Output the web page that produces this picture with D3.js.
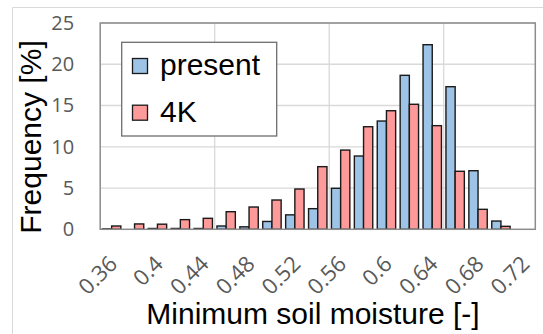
<!doctype html>
<html>
<head>
  <script src="https://cdnjs.cloudflare.com/ajax/libs/d3/7.8.5/d3.min.js"></script>
  <style>
    body { margin: 0; background: #fff; }
    .tick text { font-family: "Open Sans", sans-serif; fill: #595959; }
    .title { font-family: "Liberation Sans", Arial, sans-serif; fill: #000; }
  </style>
</head>
<body>
  <svg width="543" height="334"></svg>
  <script>
    var bins = ["0.36","0.38","0.4","0.42","0.44","0.46","0.48","0.5","0.52","0.54",
      "0.56","0.58","0.6","0.62","0.64","0.66","0.68","0.7","0.72"];
    var present = [0.05, 0, 0.1, 0.1, 0.1, 0.4, 0.3, 0.95, 1.75, 2.5, 4.97, 8.88,
      13.12, 18.66, 22.37, 17.28, 7.1, 1.0, 0];
    var warm4K = [0.4, 0.65, 0.62, 1.17, 1.33, 2.13, 2.7, 3.55, 4.88, 7.59, 9.6,
      12.43, 14.37, 15.15, 12.56, 7.03, 2.42, 0.36, 0];
    var seriesNames = ["present", "4K"];
    var xTickLabels = ["0.36","0.4","0.44","0.48","0.52","0.56","0.6","0.64","0.68","0.72"];
    var yTicks = [0, 5, 10, 15, 20, 25];
    var gridBins = ["0.46", "0.56", "0.66"];   // vertical gridlines start at these bins

    var colors = {"present": "#9dc3e6", "4K": "#ff9a9a"};

    var plotL = 100.2, plotR = 535.3, plotT = 23, plotB = 229.3;
    var svg = d3.select("svg");

    // outer chart frame (partly cropped)
    svg.append("path").attr("d", "M12.5,340 V7.5 H550")
      .attr("fill", "none").attr("stroke", "#d9d9d9").attr("stroke-width", 1);

    var xScale = d3.scaleBand().domain(bins).range([plotL, plotR]).padding(0);
    var sScale = d3.scaleBand().domain(seriesNames).range([0, xScale.bandwidth()])
      .paddingInner(0).paddingOuter(0.245);
    var yScale = d3.scaleLinear().domain([0, 25]).range([plotB, plotT]);

    // horizontal gridlines
    svg.append("g").selectAll("line").data(yTicks.slice(1)).enter().append("line")
      .attr("x1", plotL).attr("x2", plotR)
      .attr("y1", d => yScale(d)).attr("y2", d => yScale(d))
      .attr("stroke", "#d9d9d9").attr("stroke-width", 1.3);
    // vertical gridlines
    svg.append("g").selectAll("line").data(gridBins).enter().append("line")
      .attr("x1", d => xScale(d)).attr("x2", d => xScale(d))
      .attr("y1", plotT).attr("y2", plotB)
      .attr("stroke", "#d9d9d9").attr("stroke-width", 1.3);

    // bars
    var rows = bins.map((b, i) => ({bin: b, values: [
      {name: "present", v: present[i]}, {name: "4K", v: warm4K[i]}]}));
    var groups = svg.append("g").selectAll("g").data(rows).enter().append("g")
      .attr("transform", d => "translate(" + xScale(d.bin) + ",0)");
    groups.selectAll("rect").data(d => d.values.filter(v => v.v > 0)).enter().append("rect")
      .attr("x", d => sScale(d.name))
      .attr("width", sScale.bandwidth())
      .attr("y", d => yScale(d.v))
      .attr("height", d => plotB - yScale(d.v))
      .attr("fill", d => colors[d.name])
      .attr("stroke", "#1a1a1a").attr("stroke-width", 1.4);

    // plot frame
    svg.append("rect").attr("x", plotL).attr("y", plotT)
      .attr("width", plotR - plotL).attr("height", plotB - plotT)
      .attr("fill", "none").attr("stroke", "#8c8c8c").attr("stroke-width", 1.5);

    // y axis
    var yAxis = d3.axisLeft(yScale).tickValues(yTicks).tickSize(0).tickPadding(26);
    var yG = svg.append("g").attr("transform", "translate(" + plotL + ",0)").call(yAxis);
    yG.select(".domain").remove();
    yG.selectAll("text").style("font-size", "20px");

    // x axis
    var xAxis = d3.axisBottom(xScale).tickValues(xTickLabels).tickSize(0);
    var xG = svg.append("g").attr("transform", "translate(0," + plotB + ")").call(xAxis);
    xG.select(".domain").remove();
    xG.selectAll("text").style("font-size", "22px")
      .attr("text-anchor", "end").attr("dy", null).attr("y", null)
      .attr("transform", "translate(7,36) rotate(-45)");

    // axis titles
    svg.append("text").attr("class", "title")
      .attr("x", 313).attr("y", 324).attr("text-anchor", "middle")
      .style("font-size", "30px").text("Minimum soil moisture [-]");
    svg.append("text").attr("class", "title")
      .attr("transform", "translate(40.5,137) rotate(-90)").attr("text-anchor", "middle")
      .style("font-size", "30px").text("Frequency [%]");

    // legend
    var lg = svg.append("g");
    lg.append("rect").attr("x", 121.7).attr("y", 42.3).attr("width", 155).attr("height", 93.7)
      .attr("fill", "#fff").attr("stroke", "#6e6e6e").attr("stroke-width", 1.3);
    var items = lg.selectAll("g").data(seriesNames).enter().append("g")
      .attr("transform", (d, i) => "translate(0," + (i * 46.7) + ")");
    items.append("rect").attr("x", 132.5).attr("y", 58.5).attr("width", 15).attr("height", 15)
      .attr("fill", d => colors[d]).attr("stroke", "#1a1a1a").attr("stroke-width", 1.3);
    items.append("text").attr("class", "title").attr("x", 160).attr("y", 75)
      .style("font-size", "30px").text(d => d);
  </script>
</body>
</html>
